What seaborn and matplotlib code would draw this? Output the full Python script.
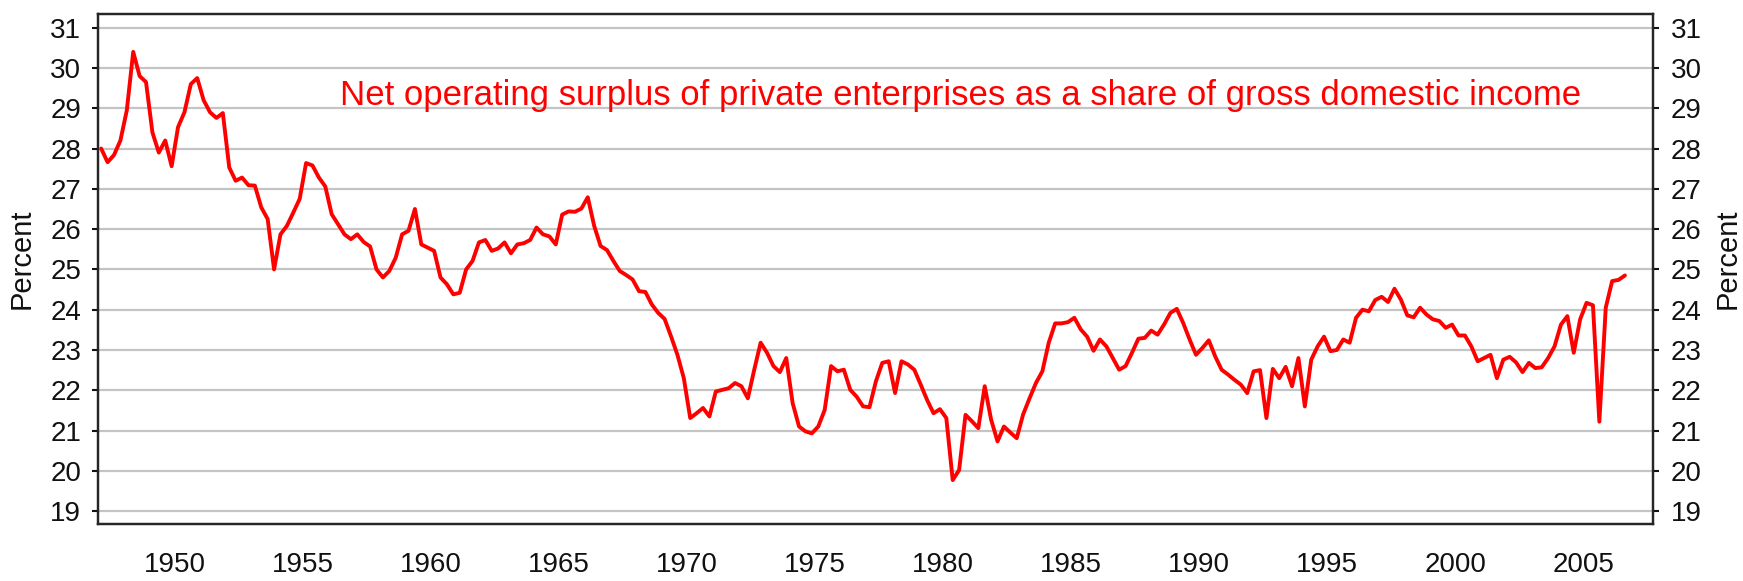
import numpy as np
import pandas as pd
import matplotlib
matplotlib.use("Agg")
import matplotlib.pyplot as plt
import seaborn as sns

# ===================== DATOS (trimestrales, 1947T1 - 2006T3) =====================
first_year = 1947

share_1947_1958 = [28.0, 27.66, 27.84, 28.2, 28.95, 30.4, 29.8, 29.65, 28.4, 27.9, 28.2, 27.56,
                   28.53, 28.9, 29.6, 29.75, 29.2, 28.9, 28.76, 28.88, 27.53, 27.2, 27.28, 27.09,
                   27.08, 26.54, 26.25, 25.0, 25.87, 26.08, 26.41, 26.75, 27.64, 27.58, 27.28, 27.06,
                   26.37, 26.12, 25.87, 25.75, 25.87, 25.68, 25.57, 25.0, 24.8, 24.96, 25.29, 25.87]
share_1959_1970 = [25.96, 26.5, 25.62, 25.54, 25.46, 24.8, 24.63, 24.38, 24.42, 25.0, 25.21, 25.67,
                   25.73, 25.46, 25.52, 25.67, 25.4, 25.62, 25.65, 25.73, 26.04, 25.87, 25.82, 25.62,
                   26.36, 26.44, 26.43, 26.51, 26.79, 26.08, 25.58, 25.48, 25.21, 24.96, 24.86, 24.75,
                   24.46, 24.44, 24.13, 23.92, 23.77, 23.34, 22.88, 22.3, 21.31, 21.43, 21.56, 21.35]
share_1971_1982 = [21.97, 22.01, 22.05, 22.18, 22.1, 21.8, 22.51, 23.18, 22.93, 22.6, 22.45, 22.8,
                   21.68, 21.1, 20.98, 20.93, 21.1, 21.51, 22.6, 22.47, 22.51, 22.01, 21.84, 21.6,
                   21.58, 22.22, 22.68, 22.72, 21.93, 22.72, 22.64, 22.51, 22.14, 21.76, 21.43, 21.53,
                   21.31, 19.77, 20.02, 21.39, 21.23, 21.06, 22.1, 21.27, 20.73, 21.1, 20.95, 20.81]
share_1983_1995 = [21.4, 21.8, 22.18, 22.47, 23.18, 23.66, 23.66, 23.69, 23.8, 23.51, 23.33, 22.98,
                   23.26, 23.09, 22.8, 22.51, 22.6, 22.93, 23.28, 23.3, 23.48, 23.38, 23.63, 23.92,
                   24.02, 23.67, 23.26, 22.88, 23.05, 23.24, 22.84, 22.51, 22.39, 22.26, 22.14, 21.93,
                   22.47, 22.5, 21.31, 22.53, 22.3, 22.58, 22.1, 22.8, 21.6, 22.76, 23.09, 23.33, 22.97]
share_1995_2006 = [23.0, 23.26, 23.18, 23.8, 24.0, 23.96, 24.24, 24.32, 24.19, 24.52, 24.25, 23.86,
                   23.81, 24.05, 23.88, 23.76, 23.72, 23.55, 23.63, 23.36, 23.36, 23.09, 22.72, 22.8,
                   22.88, 22.3, 22.76, 22.83, 22.69, 22.45, 22.68, 22.55, 22.57, 22.8, 23.09, 23.63,
                   23.84, 22.93, 23.76, 24.17, 24.11, 21.22, 24.05, 24.71, 24.74, 24.85]

share = share_1947_1958 + share_1959_1970 + share_1971_1982 + share_1983_1995 + share_1995_2006
quarter = np.arange(len(share))
df = pd.DataFrame({"year": first_year + (quarter + 0.5) / 4, "share": share})

year_ticks = list(range(1950, 2006, 5))
pct_ticks = list(range(19, 32))
title = "Net operating surplus of private enterprises as a share of gross domestic income"

# ===================== GRÁFICO =====================
sns.set_style("white")
plt.rcParams["font.family"] = ["Liberation Sans", "DejaVu Sans"]

fig = plt.figure(figsize=(17.43, 5.81), dpi=100)
ax = fig.add_axes([98 / 1743, 57 / 581, 1555 / 1743, 510 / 581])

sns.lineplot(data=df, x="year", y="share", ax=ax, color="#ff0000", linewidth=2.8)

ax.set_xlim(1947.0, 2007.72)
ax.set_ylim(18.68, 31.34)
ax.set_xticks(year_ticks)
ax.set_yticks(pct_ticks)
ax.yaxis.grid(True, color="#c4c4c4", linewidth=1.6)
ax.xaxis.grid(False)
ax.set_axisbelow(True)
for s in ax.spines.values():
    s.set_visible(True)
    s.set_color("black")
    s.set_linewidth(1.6)

ax.tick_params(axis="x", direction="out", length=9, width=1.5, pad=11, labelsize=20, colors="#111111")
ax.tick_params(axis="y", direction="out", length=4, width=1.5, pad=8, labelsize=20, colors="#111111")
ax.set_xlabel("")
ax.set_ylabel("")

ax2 = ax.twinx()
ax2.set_ylim(ax.get_ylim())
ax2.set_yticks(pct_ticks)
ax2.tick_params(axis="y", direction="out", length=4, width=1.5, pad=9, labelsize=20, colors="#111111")
for s in ax2.spines.values():
    s.set_linewidth(1.6)

ax.text(-0.049, 0.52, "Percent", transform=ax.transAxes, rotation=90,
        ha="center", va="center", fontsize=21, color="#111111")
ax.text(1.048, 0.52, "Percent", transform=ax.transAxes, rotation=90,
        ha="center", va="center", fontsize=21, color="#111111")

ax.text(0.1556, 0.8216, title, transform=ax.transAxes, color="#ff0000",
        fontsize=25, ha="left", va="baseline")

fig.savefig("out.png", dpi=100)
